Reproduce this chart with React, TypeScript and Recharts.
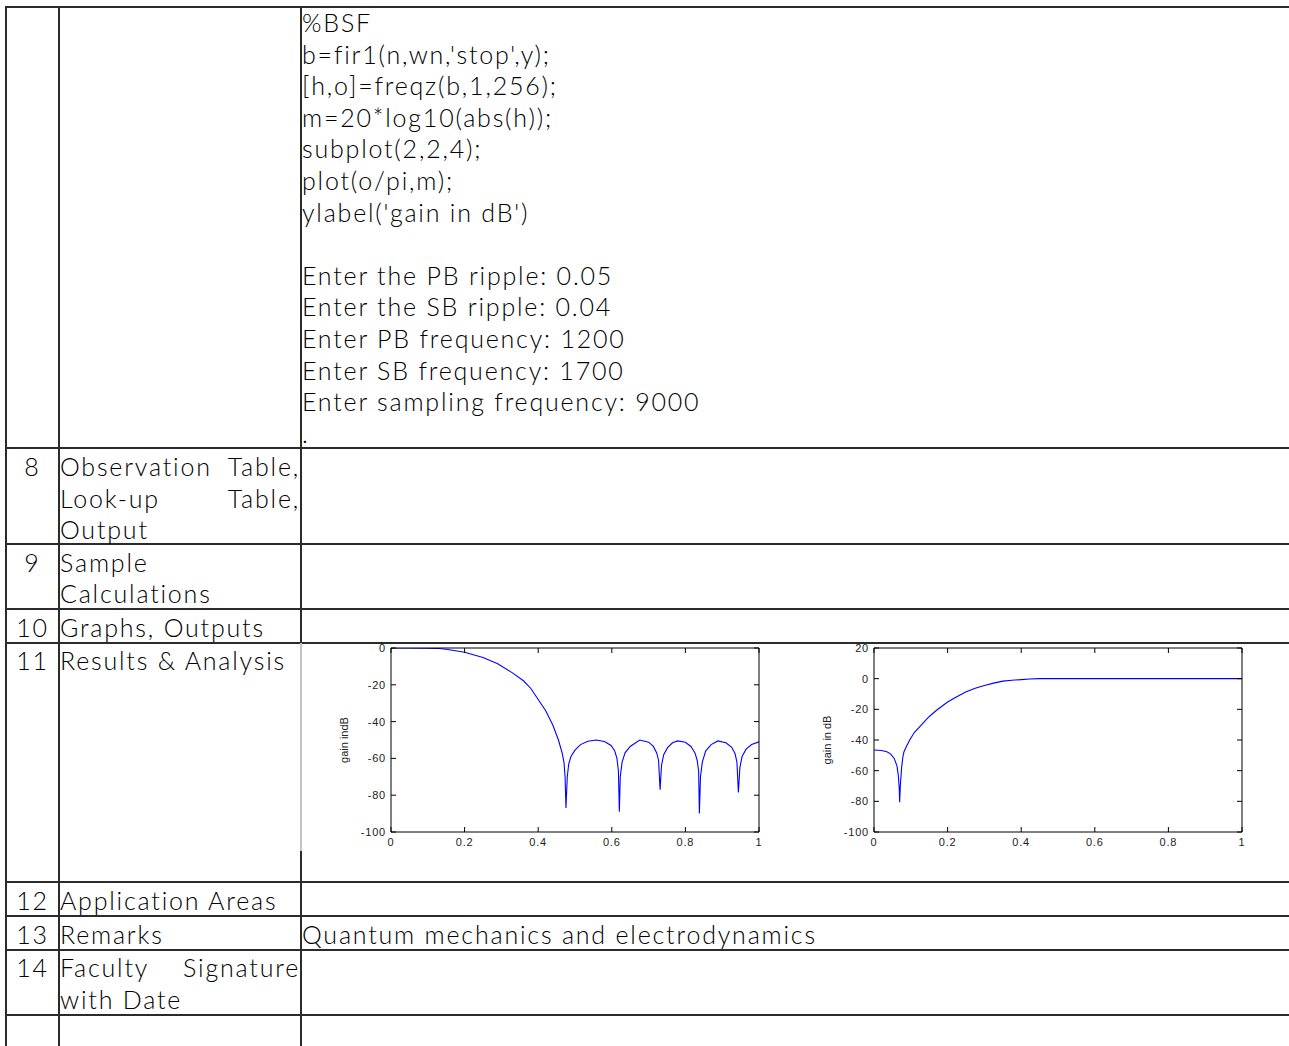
import React from 'react';
import { LineChart, Line, XAxis, YAxis } from 'recharts';

// ---- Chart 1 (gain indB) ----
const bpfFreq = [0, 0.05, 0.1, 0.13, 0.15, 0.2, 0.25, 0.29, 0.33, 0.36, 0.38, 0.4, 0.42, 0.44, 0.455, 0.465, 0.47, 0.473, 0.4755, 0.479, 0.483, 0.489, 0.5, 0.515, 0.535, 0.558, 0.58, 0.598, 0.608, 0.614, 0.618, 0.6205, 0.623, 0.628, 0.636, 0.65, 0.676, 0.7, 0.713, 0.722, 0.727, 0.7313, 0.735, 0.741, 0.752, 0.765, 0.779, 0.8, 0.815, 0.826, 0.832, 0.836, 0.838, 0.841, 0.846, 0.855, 0.87, 0.888, 0.91, 0.926, 0.935, 0.94, 0.944, 0.948, 0.954, 0.965, 0.98, 1.0];
const bpfGain = [0, 0, -0.1, -0.3, -0.7, -2.3, -5.2, -8.6, -13.5, -17.8, -22, -28, -34, -42, -50, -57, -62, -70, -87, -70, -63, -59, -55.5, -52.5, -50.7, -50, -50.8, -53, -56, -60, -67, -89, -70, -62, -57, -53.5, -50, -51.2, -53.5, -57, -61, -77, -64, -58, -54, -51.5, -50.5, -51.2, -53.5, -57, -61, -67, -90, -70, -62, -56, -52.5, -50.5, -51.5, -54, -57.5, -62, -78.5, -65, -59, -55, -52.5, -51];

// ---- Chart 2 (gain in dB) ----
const bsfFreq = [0, 0.02, 0.035, 0.045, 0.055, 0.0625, 0.066, 0.0685, 0.0697, 0.0715, 0.075, 0.0785, 0.0815, 0.088, 0.097, 0.11, 0.124, 0.14, 0.151, 0.17, 0.2, 0.22, 0.249, 0.275, 0.3, 0.325, 0.35, 0.375, 0.4, 0.423, 0.45, 0.6, 0.8, 1.0];
const bsfGain = [-46.5, -46.8, -47.6, -49, -52, -57, -63, -71, -80.6, -70, -58, -51, -47.6, -44.3, -40, -35, -31.4, -27.2, -24.5, -20.6, -15.2, -12.4, -8.7, -6.2, -4.4, -2.9, -1.6, -1.0, -0.6, -0.25, 0, 0, 0, 0];

const xTicks = [0, 0.2, 0.4, 0.6, 0.8, 1];
const bpfYTicks = [0, -20, -40, -60, -80, -100];
const bsfYTicks = [20, 0, -20, -40, -60, -80, -100];

const codeLines = [
  '%BSF',
  "b=fir1(n,wn,'stop',y);",
  '[h,o]=freqz(b,1,256);',
  'm=20*log10(abs(h));',
  'subplot(2,2,4);',
  'plot(o/pi,m);',
  "ylabel('gain in dB')",
  '',
  'Enter the PB ripple: 0.05',
  'Enter the SB ripple: 0.04',
  'Enter PB frequency: 1200',
  'Enter SB frequency: 1700',
  'Enter sampling frequency: 9000',
  '.',
];

const FONT = "Lato, 'Noto Sans', sans-serif";
const TICKFONT = "'Liberation Sans', Arial, sans-serif";
const LINE = '#2b2b2b';

const fmtX = (v: number) => (v === 0 || v === 1 ? String(v) : v.toFixed(1));
const blank = () => '';

function HLine({ y, x1 = 6, x2 = 1289 }: { y: number; x1?: number; x2?: number }) {
  return <div style={{ position: 'absolute', left: x1, top: y - 1, width: x2 - x1, height: 2, background: LINE }} />;
}
function VLine({ x, y1, y2, color = LINE }: { x: number; y1: number; y2: number; color?: string }) {
  return <div style={{ position: 'absolute', left: x - 1, top: y1, width: 2, height: y2 - y1, background: color }} />;
}

function T({ x, cy, w, align, justify, children }: { x: number; cy: number; w?: number; align?: 'center' | 'left'; justify?: boolean; children: React.ReactNode }) {
  const base: React.CSSProperties = {
    position: 'absolute',
    left: x,
    top: cy - 16,
    height: 32,
    lineHeight: '32px',
    fontFamily: FONT,
    fontSize: 25,
    fontWeight: 300,
    letterSpacing: 1.8,
    color: '#000',
    whiteSpace: 'pre',
  };
  if (justify) {
    const words = String(children).split(' ');
    return (
      <div style={{ ...base, width: w, display: 'flex', justifyContent: 'space-between' }}>
        {words.map((wd, i) => (
          <span key={i}>{wd}</span>
        ))}
      </div>
    );
  }
  return <div style={{ ...base, width: w, textAlign: align || 'left' }}>{children}</div>;
}

function Plot({ freq, gain, yDomain, yTicks, label, left }: { freq: number[]; gain: number[]; yDomain: [number, number]; yTicks: number[]; label: string; left: number }) {
  const data = freq.map((f, i) => ({ f, g: gain[i] }));
  const tickStyle = { fontSize: 11, fill: '#222', fontFamily: TICKFONT, letterSpacing: 0.8 };
  return (
    <div style={{ position: 'absolute', left, top: 638 }}>
      <LineChart width={440} height={215} data={data} margin={{ top: 9, right: 10, bottom: 5, left: 21 }}>
        <XAxis dataKey="f" type="number" domain={[0, 1]} ticks={xTicks} interval={0} tickFormatter={fmtX} tickSize={-5} tickMargin={11} height={16} stroke="#000" tick={tickStyle} allowDataOverflow />
        <XAxis xAxisId="top" dataKey="f" orientation="top" type="number" domain={[0, 1]} ticks={xTicks} interval={0} tickFormatter={blank} tick={{ fontSize: 1 }} tickSize={-5} tickMargin={0} height={1} stroke="#000" allowDataOverflow />
        <YAxis type="number" domain={yDomain} ticks={yTicks} interval={0} tickSize={-5} tickMargin={10} width={40} stroke="#000" tick={tickStyle} allowDataOverflow
          label={{ value: label, angle: -90, position: 'insideLeft', offset: -7, textAnchor: 'middle', style: { fontSize: 11, fill: '#222', fontFamily: TICKFONT } }} />
        <YAxis yAxisId="right" orientation="right" type="number" domain={yDomain} ticks={yTicks} interval={0} tickFormatter={blank} tick={{ fontSize: 1 }} tickSize={-5} tickMargin={0} width={1} stroke="#000" allowDataOverflow />
        <Line dataKey="g" type="linear" stroke="#0000ff" strokeWidth={1.1} dot={false} isAnimationActive={false} />
      </LineChart>
    </div>
  );
}

export default function App() {
  return (
    <div style={{ position: 'absolute', left: 0, top: 0, width: 1289, height: 1046, background: '#fff', overflow: 'hidden' }}>
      {/* table lines */}
      <HLine y={7} />
      <HLine y={448} />
      <HLine y={544} />
      <HLine y={609} />
      <HLine y={643} />
      <HLine y={882} />
      <HLine y={916} />
      <HLine y={950} />
      <HLine y={1015} />
      <VLine x={6} y1={6} y2={1046} />
      <VLine x={59} y1={6} y2={1046} />
      <VLine x={301} y1={6} y2={643} />
      <VLine x={301} y1={643} y2={851} color="#c4c4c4" />
      <VLine x={301} y1={851} y2={1046} />

      {/* code cell */}
      {codeLines.map((l, i) => (
        <T key={i} x={302} cy={22 + i * 31.6}>{l}</T>
      ))}

      {/* rows */}
      <T x={6} w={53} cy={466} align="center">8</T>
      <T x={60} w={240} cy={466} justify>Observation Table,</T>
      <T x={60} w={240} cy={498} justify>Look-up Table,</T>
      <T x={60} cy={529}>Output</T>

      <T x={6} w={53} cy={562} align="center">9</T>
      <T x={60} cy={562}>Sample</T>
      <T x={60} cy={593}>Calculations</T>

      <T x={6} w={53} cy={627} align="center">10</T>
      <T x={60} cy={627}>Graphs, Outputs</T>

      <T x={6} w={53} cy={660} align="center">11</T>
      <T x={60} cy={660}>Results &amp; Analysis</T>

      <T x={6} w={53} cy={900} align="center">12</T>
      <T x={60} cy={900}>Application Areas</T>

      <T x={6} w={53} cy={934} align="center">13</T>
      <T x={60} cy={934}>Remarks</T>
      <T x={302} cy={934}>Quantum mechanics and electrodynamics</T>

      <T x={6} w={53} cy={967} align="center">14</T>
      <T x={60} w={240} cy={967} justify>Faculty Signature</T>
      <T x={60} cy={999}>with Date</T>

      {/* charts */}
      <Plot freq={bpfFreq} gain={bpfGain} yDomain={[-100, 0]} yTicks={bpfYTicks} label="gain indB" left={330} />
      <Plot freq={bsfFreq} gain={bsfGain} yDomain={[-100, 20]} yTicks={bsfYTicks} label="gain in dB" left={813} />
    </div>
  );
}
